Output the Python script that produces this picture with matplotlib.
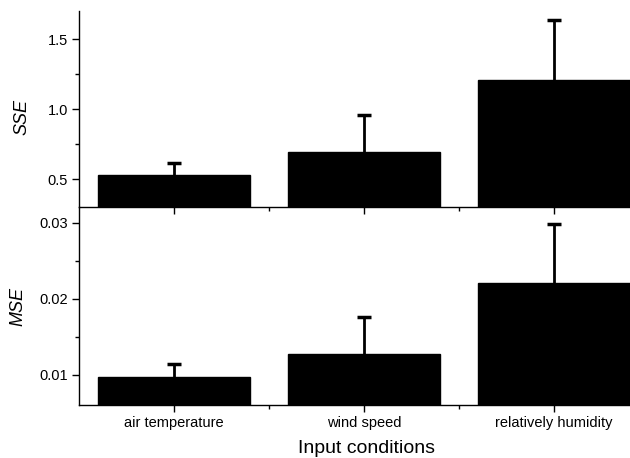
import numpy as np
import matplotlib.pyplot as plt
from matplotlib.ticker import FixedLocator

plt.rcParams['font.family'] = ['Liberation Sans', 'DejaVu Sans']

# data
conditions = ['air temperature', 'wind speed', 'relatively humidity']
sse_mean = [0.53, 0.694, 1.209]
sse_err = [0.09, 0.267, 0.428]
mse_mean = [0.0097, 0.0127, 0.0220]
mse_err = [0.0017, 0.0049, 0.0078]

x = np.arange(len(conditions))

fig = plt.figure(figsize=(6.3, 4.58), dpi=100)
ax2 = fig.add_axes([0.1254, 0.1157, 0.8746, 0.4313])
ax1 = fig.add_axes([0.1254, 0.547, 0.8746, 0.429])
ax1.patch.set_alpha(0)

def style(ax):
    for s in ['top', 'right']:
        ax.spines[s].set_visible(False)
    ax.spines['left'].set_linewidth(1.0)
    ax.spines['bottom'].set_linewidth(1.0)
    ax.set_xlim(-0.5, 2.4)
    ax.xaxis.set_major_locator(FixedLocator(x))
    ax.xaxis.set_minor_locator(FixedLocator([0.5, 1.5]))
    ax.tick_params(which='major', direction='out', length=5, width=1.0,
                   labelsize=10.5, pad=3)
    ax.tick_params(which='minor', direction='out', length=3, width=1.0)

# top panel: SSE (bars drawn over the lower half of the error bar)
ax1.errorbar(x, sse_mean, yerr=sse_err, fmt='none', ecolor='black',
             elinewidth=2, capsize=5, capthick=2.5, zorder=2)
ax1.bar(x, sse_mean, width=0.8, color='black', edgecolor='black', zorder=3)
style(ax1)
ax1.set_ylim(0.3, 1.7)
ax1.set_yticks([0.5, 1.0, 1.5])
ax1.yaxis.set_minor_locator(FixedLocator([0.75, 1.25]))
ax1.set_xticklabels([])
ax1.set_ylabel('SSE', style='italic', fontsize=13)
ax1.yaxis.set_label_coords(-0.088, 0.46)

# bottom panel: MSE
ax2.errorbar(x, mse_mean, yerr=mse_err, fmt='none', ecolor='black',
             elinewidth=2, capsize=5, capthick=2.5, zorder=2)
ax2.bar(x, mse_mean, width=0.8, color='black', edgecolor='black', zorder=3)
style(ax2)
ax2.set_ylim(0.006, 0.032)
ax2.set_yticks([0.01, 0.02, 0.03])
ax2.set_yticklabels(['0.01', '0.02', '0.03'])
ax2.yaxis.set_minor_locator(FixedLocator([0.015, 0.025]))
ax2.set_xticklabels(conditions)
ax2.set_ylabel('MSE', style='italic', fontsize=13)
ax2.yaxis.set_label_coords(-0.095, 0.5)
ax2.set_xlabel('Input conditions', fontsize=14)
ax2.xaxis.set_label_coords(0.522, -0.178)

fig.savefig('out.png', dpi=100)
